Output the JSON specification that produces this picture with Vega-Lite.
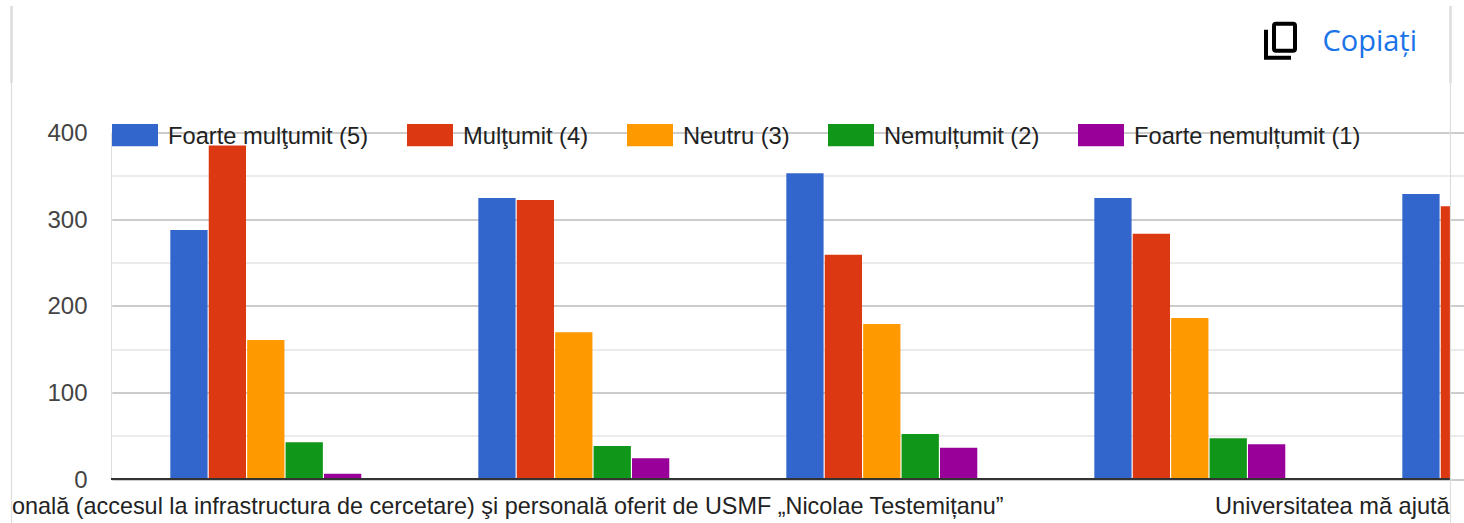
{"$schema":"https://vega.github.io/schema/vega-lite/v6.json","width":1339,"height":346.5,"autosize":{"type":"none"},"padding":{"left":111,"top":132.5,"right":14,"bottom":44},"background":"#ffffff","datasets":{"bars":[{"g":"G1","r":"Foarte mulţumit (5)","v":287.5},{"g":"G1","r":"Mulţumit (4)","v":385},{"g":"G1","r":"Neutru (3)","v":160.5},{"g":"G1","r":"Nemulțumit (2)","v":42.5},{"g":"G1","r":"Foarte nemulțumit (1)","v":6},{"g":"G2","r":"Foarte mulţumit (5)","v":324.5},{"g":"G2","r":"Mulţumit (4)","v":322},{"g":"G2","r":"Neutru (3)","v":169.5},{"g":"G2","r":"Nemulțumit (2)","v":38},{"g":"G2","r":"Foarte nemulțumit (1)","v":24},{"g":"G3","r":"Foarte mulţumit (5)","v":353},{"g":"G3","r":"Mulţumit (4)","v":259},{"g":"G3","r":"Neutru (3)","v":179},{"g":"G3","r":"Nemulțumit (2)","v":52},{"g":"G3","r":"Foarte nemulțumit (1)","v":36},{"g":"G4","r":"Foarte mulţumit (5)","v":324.5},{"g":"G4","r":"Mulţumit (4)","v":283},{"g":"G4","r":"Neutru (3)","v":186},{"g":"G4","r":"Nemulțumit (2)","v":47},{"g":"G4","r":"Foarte nemulțumit (1)","v":40},{"g":"G5","r":"Foarte mulţumit (5)","v":329},{"g":"G5","r":"Mulţumit (4)","v":315}]},"layer":[{"data":{"name":"bars"},"mark":{"type":"bar","clip":true},"encoding":{"x":{"field":"g","type":"nominal","axis":null,"scale":{"domain":["G1","G2","G3","G4","G5"],"range":[0.8,1540.8],"paddingInner":0.38,"paddingOuter":0.19}},"xOffset":{"field":"r","type":"nominal","scale":{"domain":["Foarte mulţumit (5)","Mulţumit (4)","Neutru (3)","Nemulțumit (2)","Foarte nemulțumit (1)"],"paddingInner":0.03}},"y":{"field":"v","type":"quantitative","title":null,"scale":{"domain":[0,400],"nice":false},"axis":{"values":[0,50,100,150,200,250,300,350,400],"labelExpr":"datum.value % 100 == 0 ? datum.label : ''","gridColor":{"condition":{"test":"datum.value % 100 == 0","value":"#cccccc"},"value":"#ebebeb"},"gridWidth":2,"domain":false,"ticks":false,"labelPadding":24,"labelOffset":1,"labelFont":"Liberation Sans","labelFontSize":24,"labelColor":"#444444"}},"color":{"field":"r","type":"nominal","scale":{"domain":["Foarte mulţumit (5)","Mulţumit (4)","Neutru (3)","Nemulțumit (2)","Foarte nemulțumit (1)"],"range":["#3366cc","#dc3912","#ff9900","#109618","#990099"]},"legend":{"title":null,"orient":"none","legendX":1,"legendY":-20.5,"direction":"horizontal","columns":5,"symbolType":"M-1,-0.48H1V0.48H-1Z","symbolSize":2116,"symbolStrokeWidth":0,"symbolOpacity":1,"labelFont":"Liberation Sans","labelFontSize":23.7,"labelColor":"#222222","labelOffset":10,"columnPadding":38,"labelLimit":400,"zindex":1,"encode":{"labels":{"update":{"dy":{"value":2}}}}}}}},{"data":{"values":[{"g":"G1","t":"onală (accesul la infrastructura de cercetare) şi personală oferit de USMF „Nicolae Testemițanu”"}]},"mark":{"type":"text","align":"left","baseline":"alphabetic","dx":-253,"dy":35,"font":"Liberation Sans","fontSize":23.4,"color":"#222222"},"encoding":{"x":{"field":"g","type":"nominal","axis":null,"scale":{"domain":["G1","G2","G3","G4","G5"],"range":[0,1540],"paddingInner":0.38,"paddingOuter":0.19}},"y":{"datum":0},"text":{"field":"t"}}},{"data":{"values":[{"g":"G4","t":"Universitatea mă ajută"}]},"mark":{"type":"text","align":"left","baseline":"alphabetic","dx":26,"dy":35,"font":"Liberation Sans","fontSize":23.6,"color":"#222222"},"encoding":{"x":{"field":"g","type":"nominal","axis":null,"scale":{"domain":["G1","G2","G3","G4","G5"],"range":[0,1540],"paddingInner":0.38,"paddingOuter":0.19}},"y":{"datum":0},"text":{"field":"t"}}},{"data":{"values":[{"v":0}]},"mark":{"type":"rule","color":"#333333","strokeWidth":2},"encoding":{"y":{"field":"v","type":"quantitative"}}},{"data":{"values":[{"edge":-99.5,"top":546,"bottom":457},{"edge":1339.5,"top":546,"bottom":457}]},"mark":{"type":"rule","color":"#dddddd","strokeWidth":2.5,"clip":false},"encoding":{"x":{"field":"edge","type":"quantitative","axis":null,"scale":{"domain":[0,1339],"range":[0,1339],"nice":false,"zero":false}},"y":{"field":"top","type":"quantitative"},"y2":{"field":"bottom"}}},{"data":{"values":[{"edge":-99.5,"top":457,"bottom":-60},{"edge":1339.5,"top":457,"bottom":-60}]},"mark":{"type":"rule","color":"#dddddd","strokeWidth":1.2,"clip":false},"encoding":{"x":{"field":"edge","type":"quantitative","axis":null,"scale":{"domain":[0,1339],"range":[0,1339],"nice":false,"zero":false}},"y":{"field":"top","type":"quantitative"},"y2":{"field":"bottom"}}},{"data":{"values":[{"px":1306,"py":494,"t":"Copiați"}]},"mark":{"type":"text","align":"right","baseline":"alphabetic","font":"Open Sans","fontSize":29,"color":"#1a73e8","clip":false},"encoding":{"x":{"field":"px","type":"quantitative","axis":null,"scale":{"domain":[0,1339],"range":[0,1339],"nice":false,"zero":false}},"y":{"field":"py","type":"quantitative"},"text":{"field":"t"}}},{"data":{"values":[{"px":1169.5,"py":505.8}]},"mark":{"type":"point","shape":"M-6.5,-15Q-6.5,-17 -4.5,-17H12.5Q14.5,-17 14.5,-15V8Q14.5,10 12.5,10H-4.5Q-6.5,10 -6.5,8ZM-14.5,-11V17H10.5","size":4,"filled":false,"stroke":"#000000","strokeWidth":4,"opacity":1,"clip":false},"encoding":{"x":{"field":"px","type":"quantitative","axis":null,"scale":{"domain":[0,1339],"range":[0,1339],"nice":false,"zero":false}},"y":{"field":"py","type":"quantitative"}}}],"resolve":{"scale":{"x":"independent"}}}
